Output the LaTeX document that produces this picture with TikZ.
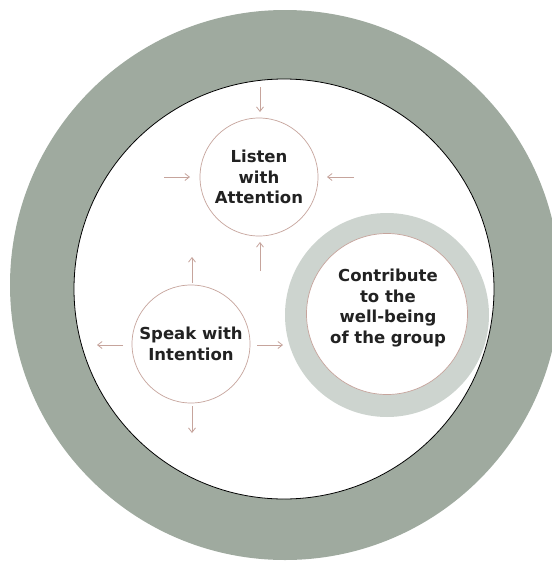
\documentclass[tikz,border=0pt]{standalone}
\usepackage{fontspec}
\setmainfont{DejaVu Sans}
\usetikzlibrary{arrows.meta}
\definecolor{ringdark}{HTML}{9FAA9F}
\definecolor{ringlight}{HTML}{CDD4CF}
\definecolor{rose}{HTML}{C6A49C}
\definecolor{ink}{HTML}{222222}
\tikzset{
  idea/.style={circle, draw=rose, line width=0.7pt, fill=white,
    minimum size=#1, inner sep=0pt, align=center, text=ink,
    font=\fontsize{16.5}{20.5}\selectfont\bfseries},
  flow/.style={draw=rose, line width=0.8pt,
    -{Straight Barb[length=4.5pt,width=7pt]}},
}
\begin{document}
\begin{tikzpicture}[x=1pt,y=-1pt]
  \useasboundingbox (0,0) rectangle (552,563);
  \clip (0,0) rectangle (552,563);
  % outer band and inner field
  \fill[ringdark] (285,285) circle (275);
  \draw[fill=white, draw=black, line width=0.8pt] (284,289) circle (210);
  % light ring around the group circle
  \fill[ringlight] (387,315) circle (102);
  % the three ideas
  \node[idea=118pt] (listen) at (259,177) {Listen\\with\\Attention};
  \node[idea=118pt] (speak) at (191,344) {Speak with\\Intention};
  \node[idea=161pt] (group) at (387,314) {};
  \node[align=center, text=ink, font=\fontsize{16.5}{20.5}\selectfont\bfseries]
    (grouptext) at (388,308) {Contribute\\to the\\well-being\\of the group};
  % arrow end points
  \coordinate (lt) at (260,87);  \coordinate (ltt) at (260,112);
  \coordinate (ll) at (164,177); \coordinate (llt) at (190,177);
  \coordinate (lr) at (354,177); \coordinate (lrt) at (327,177);
  \coordinate (lb) at (260,271); \coordinate (lbt) at (260,242);
  \coordinate (st) at (192,283); \coordinate (stt) at (192,257);
  \coordinate (sl) at (123,345); \coordinate (slt) at (97,345);
  \coordinate (sr) at (257,345); \coordinate (srt) at (283,345);
  \coordinate (sb) at (192,406); \coordinate (sbt) at (192,433);
  % arrows pointing into Listen
  \draw[flow] (lt) -- (ltt);
  \draw[flow] (ll) -- (llt);
  \draw[flow] (lr) -- (lrt);
  \draw[flow] (lb) -- (lbt);
  % arrows pointing out of Speak
  \draw[flow] (st) -- (stt);
  \draw[flow] (sl) -- (slt);
  \draw[flow] (sr) -- (srt);
  \draw[flow] (sb) -- (sbt);
\end{tikzpicture}
\end{document}
